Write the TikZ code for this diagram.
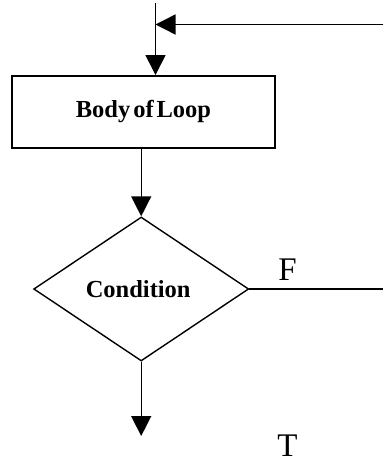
\documentclass[tikz,border=0pt]{standalone}
\usepackage{fontspec}
\setmainfont{Liberation Serif}
\usetikzlibrary{shapes.geometric,arrows.meta}
\begin{document}
\begin{tikzpicture}[x=1pt,y=-1pt,
  flow/.style={line width=1.4pt},
  tip/.style={-{Triangle[length=20pt,width=20pt]}},
  boxstyle/.style={draw,line width=1.9pt,rectangle,inner sep=0pt,
    minimum width=263pt,minimum height=72pt,
    font=\bfseries\fontsize{24.5}{28}\selectfont},
  decision/.style={draw,line width=1.4pt,diamond,inner sep=0pt,
    minimum width=215pt,minimum height=144pt,
    font=\bfseries\fontsize{24.5}{28}\selectfont},
  branch/.style={font=\fontsize{33}{38}\selectfont,inner sep=0pt}]
\useasboundingbox (0,0) rectangle (383,465);
\node[boxstyle] (body) at (143.5,112) {Body\hspace{0.12em}of\hspace{0.12em}Loop};
\node[decision] (cond) at (141.2,289) {\hspace{-6pt}Condition};
\coordinate (topin) at (155.5,3);
\coordinate (rin) at (383,24.5);
\coordinate (fout) at (383,289);
\coordinate (tend) at (141.2,436);
\node[branch,anchor=base] (F) at (287.5,280) {F};
\node[branch,anchor=base] (T) at (287.5,456) {T};
\draw[flow,tip] (topin) -- (topin |- body.north);
\draw[flow,tip] (rin) -- (rin -| topin);
\draw[flow,tip] (cond.north |- body.south) -- (cond.north);
\draw[flow] (cond.east) -- (fout);
\draw[flow,tip] (cond.south) -- (tend);
\end{tikzpicture}
\end{document}
